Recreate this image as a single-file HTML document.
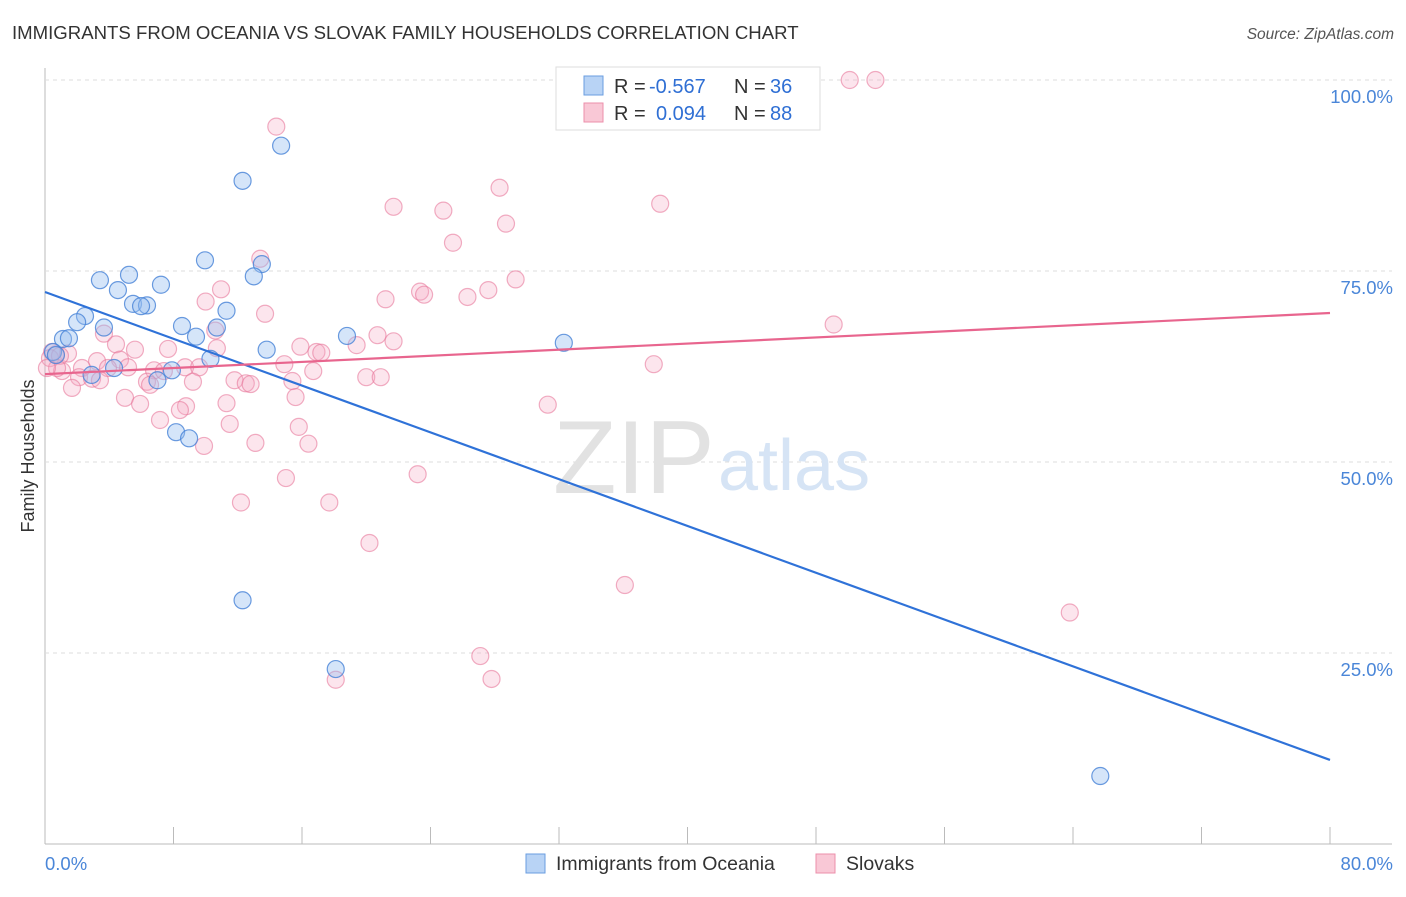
<!DOCTYPE html>
<html><head><meta charset="utf-8"><style>
body{margin:0;background:#fff;font-family:"Liberation Sans",sans-serif;}
svg text{font-family:"Liberation Sans",sans-serif;}
</style></head><body>
<svg id="c" width="1406" height="892" xmlns="http://www.w3.org/2000/svg">
<text x="12" y="39" font-size="18.6" fill="#333">IMMIGRANTS FROM OCEANIA VS SLOVAK FAMILY HOUSEHOLDS CORRELATION CHART</text>
<text x="1394" y="39" font-size="15.5" fill="#555" text-anchor="end" font-style="italic">Source: ZipAtlas.com</text>
<g id="grid"></g>
<text x="553" y="493" font-size="104" fill="#e2e2e2" font-family="Liberation Serif">ZIP</text>
<text x="718" y="490" font-size="72" fill="#d6e4f5">atlas</text>
<g id="pts"></g>
<g id="lines"></g>
<text x="34" y="456" font-size="18" fill="#333" text-anchor="middle" transform="rotate(-90 34 456)">Family Households</text>
<g>
<rect x="556" y="67" width="264" height="63" fill="#fff" stroke="#ddd"/>
<rect x="584" y="76" width="19" height="19" fill="#b8d3f5" stroke="#6a9ee0"/>
<rect x="584" y="103" width="19" height="19" fill="#f9c8d6" stroke="#ec8fab"/>
<text x="614" y="93" font-size="20" fill="#333">R =</text>
<text x="649" y="93" font-size="20" fill="#2f6fd4">-0.567</text>
<text x="734" y="93" font-size="20" fill="#333">N =</text>
<text x="770" y="93" font-size="20" fill="#2f6fd4">36</text>
<text x="614" y="120" font-size="20" fill="#333">R =</text>
<text x="656" y="120" font-size="20" fill="#2f6fd4">0.094</text>
<text x="734" y="120" font-size="20" fill="#333">N =</text>
<text x="770" y="120" font-size="20" fill="#2f6fd4">88</text>
</g>
<g>
<rect x="526" y="854" width="19" height="19" fill="#b8d3f5" stroke="#6a9ee0"/>
<text x="556" y="870" font-size="19.5" fill="#333">Immigrants from Oceania</text>
<rect x="816" y="854" width="19" height="19" fill="#f9c8d6" stroke="#ec8fab"/>
<text x="846" y="870" font-size="19.5" fill="#333">Slovaks</text>
</g>
<text x="45" y="870" font-size="18.5" fill="#4a86d8">0.0%</text>
<text x="1393" y="870" font-size="18.5" fill="#4a86d8" text-anchor="end">80.0%</text>
</svg>
<script>
const yTicks=[100,75,50,25];
const yTickLabels=["100.0%","75.0%","50.0%","25.0%"];
const blueX=[14.7,12.3,9.96,13.5,13.0,5.23,3.42,7.22,4.54,5.48,6.35,5.98,11.3,2.49,2.0,8.53,3.67,10.7,1.12,1.49,9.4,18.8,32.3,13.8,0.5,0.68,10.3,4.3,7.9,2.9,7.0,8.16,8.97,12.3,18.1,65.7];
const blueY=[91.4,86.8,76.4,75.9,74.3,74.5,73.8,73.2,72.5,70.7,70.5,70.4,69.8,69.1,68.3,67.8,67.6,67.6,66.1,66.2,66.4,66.5,65.6,64.7,64.4,64.0,63.5,62.3,62.0,61.4,60.7,53.9,53.1,31.9,22.9,8.9];
const pinkX=[50.1,51.7,14.4,28.3,21.7,38.3,24.8,28.7,25.4,13.4,29.3,27.6,10.96,23.35,23.6,21.2,26.3,10.0,13.7,49.1,10.6,3.67,20.7,21.7,4.42,15.9,19.4,10.7,5.6,7.66,16.9,17.2,1.43,0.68,4.67,3.24,14.9,5.17,37.9,8.72,9.6,6.79,7.4,2.3,3.92,1.06,16.7,2.12,2.93,20.0,20.9,11.8,15.4,9.21,6.35,6.54,1.68,15.6,12.5,12.8,4.98,5.92,11.3,8.78,31.3,8.4,7.16,11.5,15.8,16.4,13.1,9.9,23.2,15.0,12.2,17.7,20.2,36.1,63.8,27.1,18.1,27.8,0.44,0.31,0.93,0.75,0.12,3.42];
const pinkY=[100,100,93.9,85.9,83.4,83.8,82.9,81.2,78.7,76.6,73.9,72.5,72.6,72.3,71.9,71.3,71.6,71.0,69.4,68.0,67.2,66.8,66.6,65.8,65.4,65.1,65.3,64.9,64.7,64.8,64.4,64.3,64.2,64.1,63.4,63.2,62.8,62.4,62.8,62.4,62.4,62.0,61.9,62.3,62.3,61.9,61.9,61.1,60.9,61.1,61.1,60.7,60.6,60.5,60.5,60.1,59.7,58.5,60.3,60.2,58.4,57.6,57.7,57.3,57.5,56.8,55.5,54.98,54.6,52.4,52.5,52.1,48.4,47.9,44.7,44.7,39.4,33.9,30.3,24.6,21.5,21.6,64.4,63.6,63.9,62.3,62.3,60.7];
const blueTrend=[72.25,11.0];
const pinkTrend=[61.5,69.5];
const X=v=>45+v*16.0625, Y=v=>844-v*7.64;
const NS="http://www.w3.org/2000/svg";
const grid=document.getElementById('grid');
function mk(t,a,p){const e=document.createElementNS(NS,t);for(const k in a)e.setAttribute(k,a[k]);p.appendChild(e);return e;}
const ax=mk('line',{x1:45,y1:68,x2:45,y2:844,stroke:'#bbb'},grid);


const bx=mk('line',{x1:45,y1:844,x2:1392,y2:844,stroke:'#bbb'},grid);


for(let i=0;i<=10;i++){const t=mk('line',{x1:45+i*128.5,y1:827,x2:45+i*128.5,y2:844,stroke:'#bbb'},grid);

}
yTicks.forEach((v,i)=>{const g=mk('line',{x1:45,y1:Y(v),x2:1392,y2:Y(v),stroke:'#ddd','stroke-dasharray':'4,4'},grid);


const t=mk('text',{x:1393,y:Y(v)+23,'font-size':18.5,fill:'#4a86d8','text-anchor':'end'},grid);t.textContent=yTickLabels[i];

});
const pts=document.getElementById('pts');
pinkX.forEach((v,i)=>{const c=mk('circle',{cx:X(v),cy:Y(pinkY[i]),r:8.5,fill:'rgba(244,170,195,0.3)',stroke:'rgba(232,120,155,0.6)','stroke-width':1.2},pts);

});
blueX.forEach((v,i)=>{const c=mk('circle',{cx:X(v),cy:Y(blueY[i]),r:8.5,fill:'rgba(150,190,240,0.4)',stroke:'rgba(70,130,215,0.8)','stroke-width':1.2},pts);

});
const L=document.getElementById('lines');
const bl=mk('line',{x1:X(0),y1:Y(blueTrend[0]),x2:X(80),y2:Y(blueTrend[1]),stroke:'#2f72d8','stroke-width':2.2},L);


const pl=mk('line',{x1:X(0),y1:Y(pinkTrend[0]),x2:X(80),y2:Y(pinkTrend[1]),stroke:'#e8658e','stroke-width':2.2},L);


</script>
</body></html>
